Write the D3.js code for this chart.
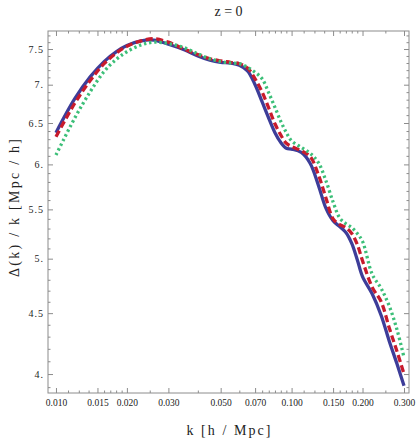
<!DOCTYPE html>
<html>
<head>
<meta charset="utf-8">
<script src="https://cdn.jsdelivr.net/npm/d3@7"></script>
<style>
  body { margin: 0; background: #fff; }
  text { font-family: "Liberation Serif", "Times New Roman", serif; }
</style>
</head>
<body>
<div id="chart"></div>
<script>
// k values (h/Mpc) shared by the three curves
const kVals = [0.010, 0.012, 0.014, 0.016, 0.018, 0.020, 0.023, 0.026, 0.030, 0.035,
  0.040, 0.045, 0.050, 0.055, 0.060, 0.065, 0.070, 0.075, 0.080, 0.085,
  0.090, 0.095, 0.100, 0.110, 0.120, 0.130, 0.140, 0.150, 0.160, 0.170,
  0.180, 0.190, 0.200, 0.220, 0.240, 0.260, 0.280, 0.300];

// Delta(k)/k for each curve
const blueVals = [6.38, 6.81, 7.11, 7.32, 7.46, 7.55, 7.62, 7.63, 7.57, 7.49,
  7.40, 7.34, 7.31, 7.30, 7.27, 7.19, 7.00, 6.77, 6.56, 6.38,
  6.26, 6.19, 6.18, 6.14, 6.01, 5.76, 5.51, 5.38, 5.32, 5.26,
  5.15, 4.99, 4.83, 4.67, 4.48, 4.26, 4.08, 3.91];
const redVals = [6.33, 6.75, 7.06, 7.29, 7.44, 7.54, 7.62, 7.65, 7.60, 7.50,
  7.42, 7.36, 7.33, 7.31, 7.29, 7.23, 7.08, 6.90, 6.69, 6.49,
  6.35, 6.25, 6.21, 6.16, 6.09, 5.88, 5.62, 5.40, 5.34, 5.31,
  5.25, 5.14, 4.98, 4.73, 4.60, 4.37, 4.18, 4.00];
const greenVals = [6.11, 6.56, 6.91, 7.18, 7.35, 7.46, 7.56, 7.60, 7.58, 7.52,
  7.43, 7.36, 7.32, 7.30, 7.29, 7.24, 7.17, 7.08, 6.89, 6.70,
  6.52, 6.38, 6.28, 6.20, 6.13, 6.02, 5.81, 5.58, 5.41, 5.35,
  5.31, 5.25, 5.17, 4.85, 4.72, 4.56, 4.36, 4.13];

// ticks
const xMajor = [0.010, 0.015, 0.020, 0.030, 0.050, 0.070, 0.100, 0.150, 0.200, 0.300];
const xMinor = [0.01125, 0.0125, 0.01375, 0.016, 0.017, 0.018, 0.019, 0.025, 0.040, 0.060,
  0.075, 0.080, 0.085, 0.090, 0.095, 0.1125, 0.125, 0.1375, 0.160, 0.170, 0.180, 0.190, 0.250];
const yMajor = [4, 4.5, 5, 5.5, 6, 6.5, 7, 7.5];
const yMinor = d3.range(39, 78).map(d => d / 10).filter(d => !yMajor.includes(d));

const width = 416, height = 438;
const margin = {top: 31, right: 7, bottom: 45, left: 48};
const innerW = width - margin.left - margin.right;
const innerH = height - margin.top - margin.bottom;

const svg = d3.select("#chart").append("svg")
  .attr("width", width)
  .attr("height", height);

const g = svg.append("g")
  .attr("transform", `translate(${margin.left},${margin.top})`);

const x = d3.scaleLog().domain([0.00925, 0.315]).range([0, innerW]);
const y = d3.scaleLog().domain([3.856, 7.766]).range([innerH, 0]);

const frameColor = "#8c8c8c";

// frame
g.append("rect")
  .attr("width", innerW)
  .attr("height", innerH)
  .attr("fill", "none")
  .attr("stroke", frameColor)
  .attr("stroke-width", 1);

// minor / major ticks on all four sides
function addTicks(axisFn, scale, values, size, transform, labels, fmt, pad) {
  const a = axisFn(scale).tickValues(values).tickSize(-size).tickSizeOuter(0)
    .tickPadding(pad || 3)
    .tickFormat(labels ? fmt : "");
  const sel = g.append("g").attr("transform", transform).call(a);
  sel.select(".domain").remove();
  sel.selectAll(".tick line").attr("stroke", frameColor);
  return sel;
}

const xFmt = d3.format(".3f");
const yFmt = d => Number.isInteger(d) ? d + "." : String(d);

addTicks(d3.axisBottom, x, xMinor, 2.5, `translate(0,${innerH})`, false);
addTicks(d3.axisTop, x, xMinor, 2.5, "translate(0,0)", false);
addTicks(d3.axisLeft, y, yMinor, 2.5, "translate(0,0)", false);
addTicks(d3.axisRight, y, yMinor, 2.5, `translate(${innerW},0)`, false);

const xb = addTicks(d3.axisBottom, x, xMajor, 5, `translate(0,${innerH})`, true, xFmt, 6);
addTicks(d3.axisTop, x, xMajor, 5, "translate(0,0)", false);
const yl = addTicks(d3.axisLeft, y, yMajor, 5, "translate(0,0)", true, yFmt, 4);
addTicks(d3.axisRight, y, yMajor, 5, `translate(${innerW},0)`, false);

xb.selectAll("text").attr("fill", "#222").style("font-size", "9.5px")
  .style("font-family", "'Liberation Serif', serif");
yl.selectAll("text").attr("fill", "#222").style("font-size", "10px")
  .style("letter-spacing", "1px")
  .style("font-family", "'Liberation Serif', serif");

// curves
const series = [
  {vals: blueVals, color: "#3d3d99", dash: null, w: 3.3},
  {vals: redVals, color: "#c81b2c", dash: "7,3.5", w: 3.3},
  {vals: greenVals, color: "#3cbf78", dash: "2.4,2.8", w: 3.3}
];

const line = d3.line()
  .x(d => x(d[0]))
  .y(d => y(d[1]))
  .curve(d3.curveCatmullRom.alpha(0.5));

series.forEach(s => {
  g.append("path")
    .datum(kVals.map((k, i) => [k, s.vals[i]]))
    .attr("d", line)
    .attr("fill", "none")
    .attr("stroke", s.color)
    .attr("stroke-width", s.w)
    .attr("stroke-dasharray", s.dash);
});

// title
svg.append("text")
  .attr("x", margin.left + innerW / 2)
  .attr("y", 16)
  .attr("text-anchor", "middle")
  .style("font-size", "14px")
  .attr("fill", "#222")
  .style("white-space", "pre")
  .text("z = 0");

// x label
svg.append("text")
  .attr("x", margin.left + innerW / 2)
  .attr("y", 435)
  .attr("text-anchor", "middle")
  .style("font-size", "14px")
  .attr("fill", "#222")
  .attr("textLength", 84)
  .attr("lengthAdjust", "spacing")
  .text("k [h / Mpc]");

// y label
svg.append("text")
  .attr("transform", `translate(19,${margin.top + innerH / 2 - 4}) rotate(-90)`)
  .attr("text-anchor", "middle")
  .style("font-size", "14px")
  .attr("fill", "#222")
  .attr("textLength", 138)
  .attr("lengthAdjust", "spacing")
  .text("Δ(k) / k [Mpc / h]");
</script>
</body>
</html>
